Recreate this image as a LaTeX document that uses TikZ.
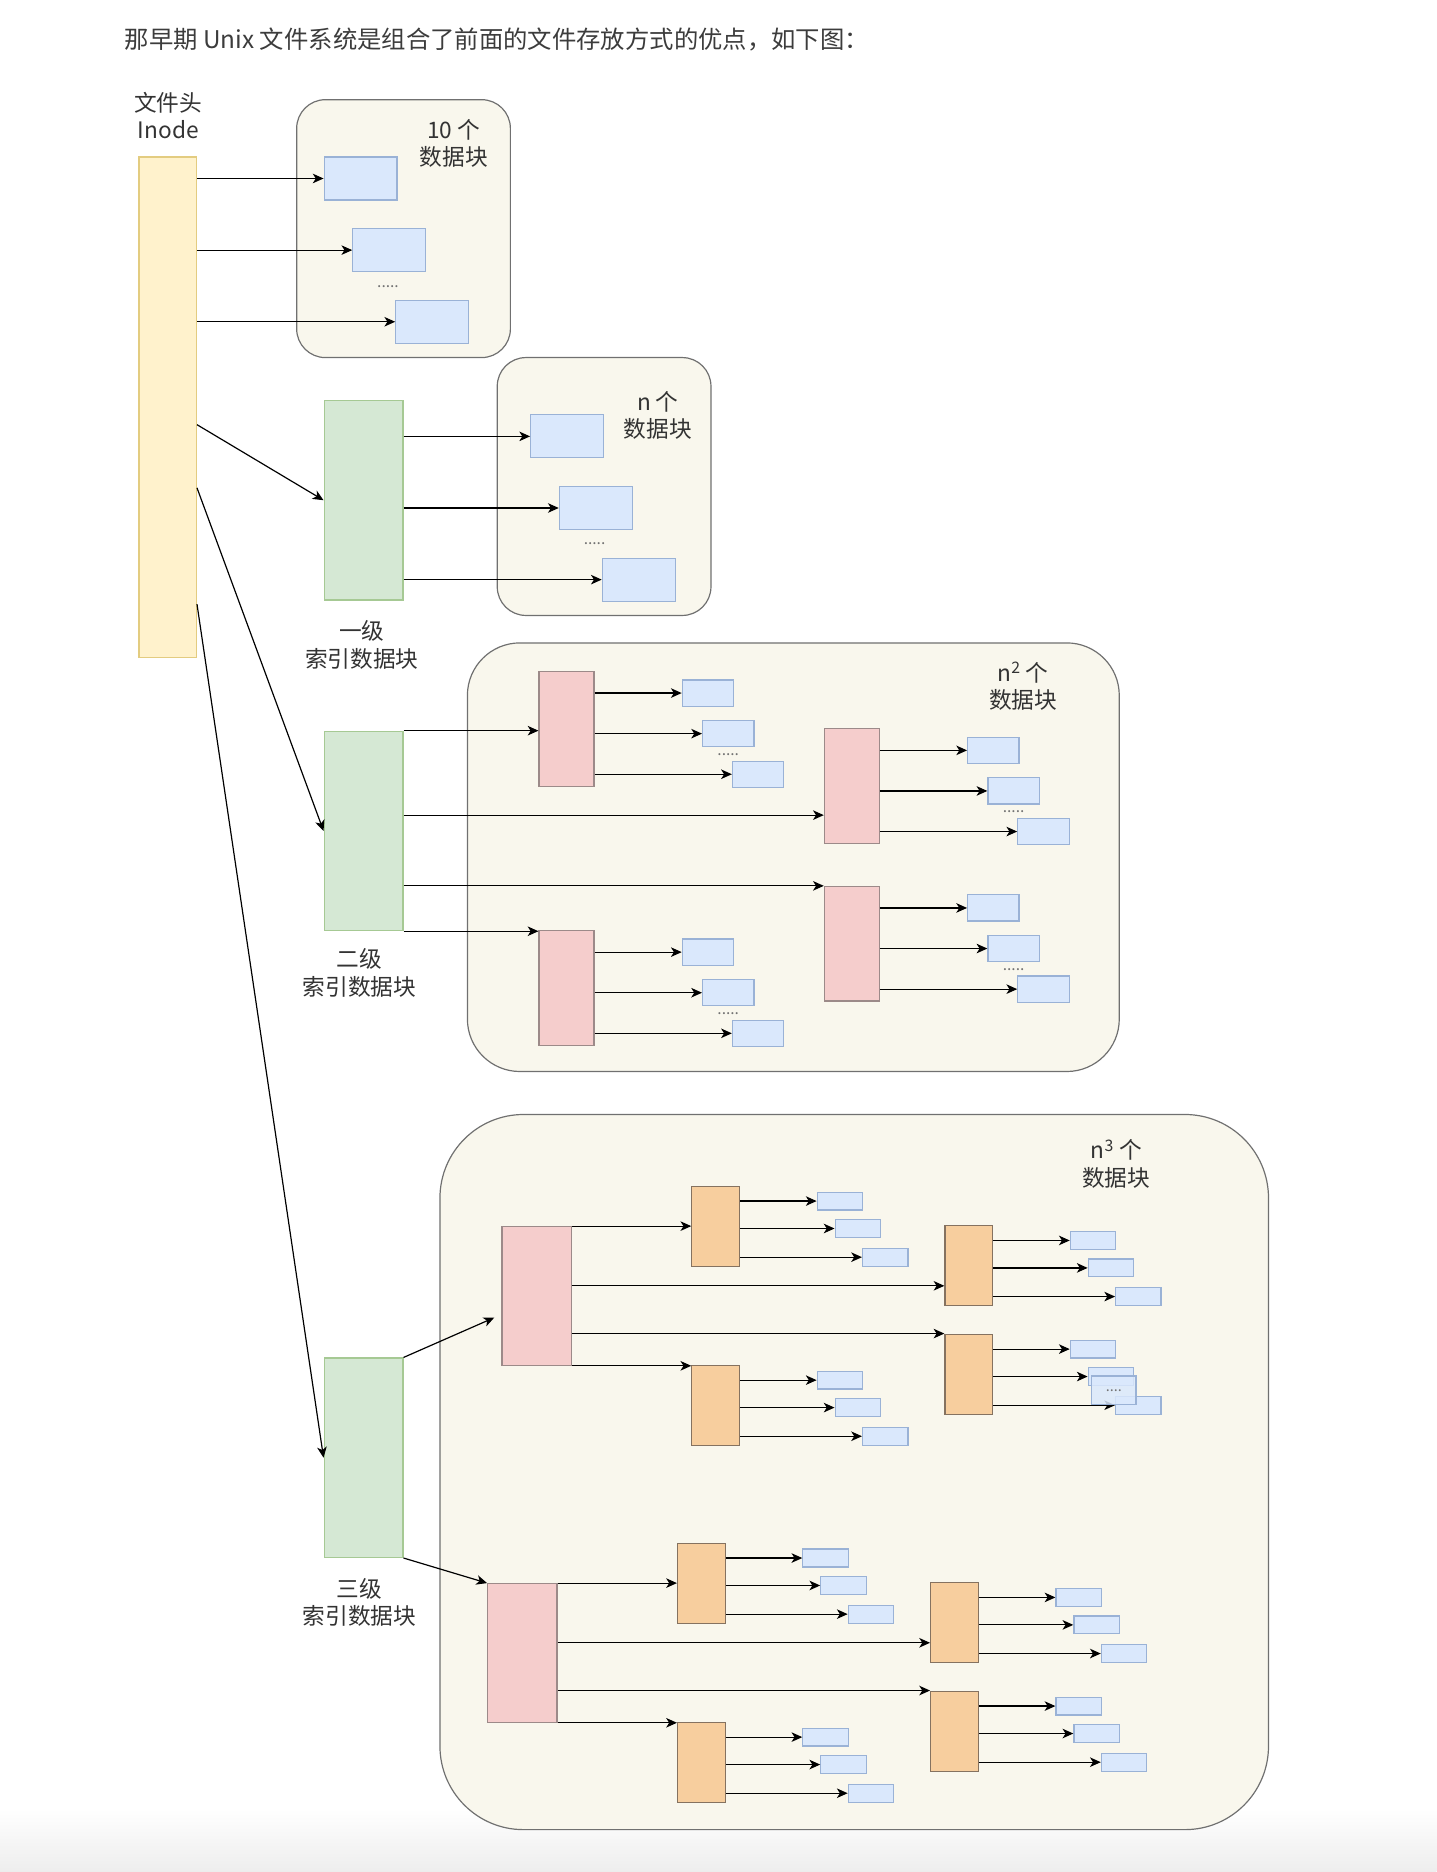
\documentclass[tikz,border=0pt]{standalone}
\usepackage{fontspec}
\setmainfont{Noto Sans CJK SC}
\usepackage{xcolor}
\usepackage{tikz}
\usetikzlibrary{arrows.meta}
\usetikzlibrary{calc}
\definecolor{hdrfill}{HTML}{FFF2CC}
\definecolor{hdrline}{HTML}{E3CC80}
\definecolor{idxfill}{HTML}{D5E8D4}
\definecolor{idxline}{HTML}{A6C994}
\definecolor{grpfill}{HTML}{F9F7ED}
\definecolor{grpline}{HTML}{707070}
\definecolor{datfill}{HTML}{DAE8FC}
\definecolor{datline}{HTML}{9AB2D6}
\definecolor{redfill}{HTML}{F5CDCC}
\definecolor{redline}{HTML}{9C8A89}
\definecolor{orgfill}{HTML}{F7CE9E}
\definecolor{orgline}{HTML}{857260}
\definecolor{txtcol}{HTML}{333333}
\definecolor{titlecol}{HTML}{3C3C3C}
\tikzset{
	hdr/.style={draw=hdrline,fill=hdrfill,inner sep=0pt,anchor=north west,minimum width=48pt,minimum height=419pt},
	idx/.style={draw=idxline,fill=idxfill,inner sep=0pt,anchor=north west,minimum width=66pt,minimum height=167pt},
	grp/.style={draw=grpline,fill=grpfill,line width=1pt,inner sep=0pt,anchor=north west},
	data/.style={draw=datline,fill=datfill,inner sep=0pt,anchor=north west},
	bigdata/.style={data,minimum width=61pt,minimum height=36pt},
	middata/.style={data,minimum width=43pt,minimum height=22pt},
	tinydata/.style={data,minimum width=38pt,minimum height=15pt},
	lvl/.style={draw=redline,fill=redfill,inner sep=0pt,anchor=north west},
	lvlsmall/.style={lvl,minimum width=46pt,minimum height=96pt},
	lvlbig/.style={lvl,minimum width=58pt,minimum height=116pt},
	leaf/.style={draw=orgline,fill=orgfill,inner sep=0pt,anchor=north west,minimum width=40pt,minimum height=67pt},
	caption/.style={font=\fontsize{19}{23}\selectfont,text=txtcol,align=center},
	more/.style={font=\fontsize{13}{13}\selectfont,text=black!55,inner sep=0pt}
}

\begin{document}
\begin{tikzpicture}[->,>={Stealth[length=9pt,width=8pt,inset=2.5pt]},
	    x=1pt,y=-1pt,line width=1pt]
	\useasboundingbox (0,0) rectangle (1203,1568);
	\shade[top color=white,bottom color=black!7] (0,1515) rectangle (1203,1568);
	\node[anchor=west,inner sep=0pt,font=\fontsize{20.4}{24}\selectfont,text=titlecol] (title) at (104,33)
	  {那早期 Unix 文件系统是组合了前面的文件存放方式的优点，如下图：};

	% inode
	\node[caption] (hdrlab) at (141,97) {文件头\\Inode};
	\node[hdr] (hdr) at (116,131) {};
	\coordinate (hdr-a) at ($(hdr.north east)!0.535!(hdr.south east)$);
	\coordinate (hdr-b) at ($(hdr.north east)!0.661!(hdr.south east)$);
	\coordinate (hdr-c) at ($(hdr.north east)!0.893!(hdr.south east)$);

	% direct blocks
	\node[grp,rounded corners=24pt,minimum width=179pt,minimum height=216pt] (grp1) at (248,83) {};
	\node[caption] (grp1lab) at (380,120) {10 个\\数据块};
	\node[bigdata] (d1) at (271,131) {};
	\node[bigdata] (d2) at (295,191) {};
	\node[bigdata] (d3) at (331,251) {};
	\node[more] (d-dots) at (325,240) {.....};
	\foreach \b in {d1,d2,d3}
	  \draw (hdr.east |- \b.west) -- (\b.west);

	% single indirect
	\node[grp,rounded corners=24pt,minimum width=179pt,minimum height=216pt] (grp2) at (416,299) {};
	\node[caption] (grp2lab) at (551,348) {n 个\\数据块};
	\node[idx] (idx1) at (271,335) {};
	\node[caption] (idx1lab) at (303,540) {一级\\索引数据块};
	\node[bigdata] (e1) at (444,347) {};
	\node[bigdata] (e2) at (468,407) {};
	\node[bigdata] (e3) at (504,467) {};
	\node[more] (e-dots) at (498,455) {.....};
	\foreach \b in {e1,e2,e3}
	  \draw (idx1.east |- \b.west) -- (\b.west);
	\draw (hdr-a) -- (idx1.west);

	% double indirect
	\node[grp,rounded corners=44pt,minimum width=546pt,minimum height=359pt] (grp3) at (391,538) {};
	\node[caption] (grp3lab) at (857,575) {n\textsuperscript{2} 个\\数据块};
	\node[idx] (idx2) at (271,612) {};
	\node[caption] (idx2lab) at (301,815) {二级\\索引数据块};
	\node[lvlsmall] (r1) at (451,562) {};
	\node[lvlsmall] (r2) at (690,610) {};
	\node[lvlsmall] (r3) at (690,742) {};
	\node[lvlsmall] (r4) at (451,779) {};
	\foreach \r in {r1,r2,r3,r4}{
	  \node[middata] (\r-a) at ([shift={(120,7)}]\r.north west) {};
	  \node[middata] (\r-b) at ([shift={(137,41)}]\r.north west) {};
	  \node[middata] (\r-c) at ([shift={(162,75)}]\r.north west) {};
	  \node[more] (\r-dots) at ([shift={(159,70)}]\r.north west) {.....};
	  \foreach \b in {a,b,c}
	    \draw (\r.east |- \r-\b.west) -- (\r-\b.west);
	}
	\coordinate (r2-in) at ($(r2.north west)!0.75!(r2.south west)$);
	\draw (idx2.north east) -- (idx2.north east -| r1.west);
	\draw (idx2.east |- r2-in) -- (r2-in);
	\draw (idx2.east |- r3.north west) -- (r3.north west);
	\draw (idx2.south east) -- (idx2.south east -| r4.west);
	\draw (hdr-b) -- (idx2.west);

	% triple indirect
	\node[grp,rounded corners=70pt,minimum width=694pt,minimum height=599pt] (grp4) at (368,933) {};
	\node[caption] (grp4lab) at (935,975) {n\textsuperscript{3} 个\\数据块};
	\node[idx] (idx3) at (271,1137) {};
	\node[caption] (idx3lab) at (301,1342) {三级\\索引数据块};
	\foreach \s/\x/\y in {t/420/1027,u/408/1326}{
	  \node[lvlbig] (\s0) at (\x,\y) {};
	  \node[leaf] (\s1) at ([shift={(159,-34)}]\s0.north west) {};
	  \node[leaf] (\s2) at ([shift={(371,-1)}]\s0.north west) {};
	  \node[leaf] (\s3) at ([shift={(371,90)}]\s0.north west) {};
	  \node[leaf] (\s4) at ([shift={(159,116)}]\s0.north west) {};
	  \coordinate (\s2-in) at ($(\s2.north west)!0.75!(\s2.south west)$);
	  \draw (\s0.north east) -- (\s0.north east -| \s1.west);
	  \draw (\s0.east |- \s2-in) -- (\s2-in);
	  \draw (\s0.east |- \s3.north west) -- (\s3.north west);
	  \draw (\s0.south east) -- (\s0.south east -| \s4.west);
	  \foreach \o in {1,...,4}{
	    \node[tinydata] (\s\o-a) at ([shift={(105,5)}]\s\o.north west) {};
	    \node[tinydata] (\s\o-b) at ([shift={(120,28)}]\s\o.north west) {};
	    \node[tinydata] (\s\o-c) at ([shift={(143,52)}]\s\o.north west) {};
	    \foreach \b in {a,b,c}
	      \draw (\s\o.east |- \s\o-\b.west) -- (\s\o-\b.west);
	  }
	}
	\node[data,minimum width=37pt,minimum height=24pt,fill opacity=0.85,text opacity=1,
	  font=\fontsize{12}{12}\selectfont,text=black!55] (t3-dots) at (914,1152) {....};
	\coordinate (t0-in) at ($(t0.north west)!0.655!(t0.south west)+(-6,0)$);
	\draw (hdr-c) -- (idx3.west);
	\draw (idx3.north east) -- (t0-in);
	\draw (idx3.south east) -- (u0.north west);
\end{tikzpicture}
\end{document}
